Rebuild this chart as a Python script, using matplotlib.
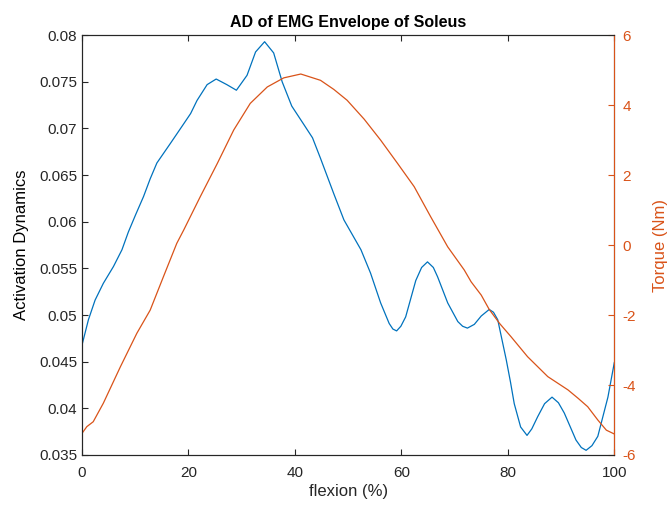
import matplotlib
matplotlib.use('Agg')
import matplotlib.pyplot as plt

plt.rcParams['font.family'] = ['Liberation Sans', 'DejaVu Sans']
plt.rcParams['axes.unicode_minus'] = False

# blue: activation dynamics (left axis)
ad_x = [0, 1.2, 2.45, 4.0, 5.9, 7.5, 8.7, 10.1, 11.55, 12.8, 14.06, 16.6, 19.1, 20.4,
        21.6, 23.5, 25.2, 27.2, 29.0, 31.0, 32.6, 34.3, 36.0, 37.6, 39.4, 41.7, 43.3,
        44.8, 47.3, 49.2, 50.8, 52.4, 54.2, 56.1, 57.7, 58.4, 59.1, 59.9, 60.8, 62.7,
        63.8, 64.9, 66.0, 66.8, 68.7, 70.6, 71.5, 72.4, 73.7, 75.0, 76.5, 77.3, 78.1,
        79.7, 80.5, 81.2, 82.4, 83.6, 84.5, 85.6, 86.9, 88.3, 89.5, 90.6, 92.8, 93.8,
        94.7, 95.8, 96.9, 98.8, 100]
ad_y = [0.0468, 0.0495, 0.0516, 0.0534, 0.0552, 0.0570, 0.0589, 0.0608, 0.0627, 0.0646,
        0.0663, 0.0684, 0.0705, 0.0716, 0.0730, 0.0747, 0.0753, 0.0747, 0.0741, 0.0757,
        0.0782, 0.0793, 0.0781, 0.0750, 0.0724, 0.0704, 0.0690, 0.0668, 0.0630, 0.0602,
        0.0586, 0.0570, 0.0545, 0.0513, 0.0491, 0.0485, 0.0483, 0.0488, 0.0498, 0.0537,
        0.0551, 0.0557, 0.0551, 0.0541, 0.0513, 0.0493, 0.0488, 0.0486, 0.0490, 0.0499,
        0.0506, 0.0503, 0.0495, 0.0452, 0.0428, 0.0405, 0.0380, 0.0371, 0.0378, 0.0391,
        0.0405, 0.0412, 0.0406, 0.0395, 0.0366, 0.0358, 0.0355, 0.0360, 0.0370, 0.0412,
        0.0449]

# orange: torque (right axis)
tq_x = [0, 0.9, 2.1, 4.0, 5.6, 7.2, 10.3, 12.8, 15.3, 17.8, 19.1, 22.2, 25.4, 28.5,
        31.6, 34.8, 37.9, 41.1, 44.8, 47.3, 49.8, 53.0, 56.1, 59.3, 62.4, 65.5, 68.7,
        71.8, 73.1, 75.0, 76.5, 78.5, 80.6, 83.7, 87.5, 91.3, 93.2, 95.0, 96.9, 98.5, 100]
tq_y = [-5.38, -5.19, -5.05, -4.52, -4.0, -3.48, -2.52, -1.86, -0.9, 0.05, 0.43, 1.38,
        2.33, 3.29, 4.05, 4.52, 4.78, 4.89, 4.71, 4.45, 4.14, 3.6, 3.0, 2.33, 1.67, 0.81,
        -0.05, -0.71, -1.05, -1.43, -1.84, -2.25, -2.62, -3.19, -3.76, -4.14, -4.38,
        -4.62, -5.0, -5.29, -5.4]

blue = (0, 0.447, 0.741)
orange = (0.85, 0.325, 0.098)
dark = (0.15, 0.15, 0.15)

fig = plt.figure(figsize=(6.67, 5.07), dpi=100)
ax = fig.add_axes([0.123, 0.1026, 0.798, 0.828])
ax.plot(ad_x, ad_y, color=blue, lw=0.9)
ax.set_xlim(0, 100)
ax.set_ylim(0.035, 0.08)
ax.set_yticks([0.035, 0.04, 0.045, 0.05, 0.055, 0.06, 0.065, 0.07, 0.075, 0.08])
ax.set_yticklabels(['0.035', '0.04', '0.045', '0.05', '0.055', '0.06', '0.065',
                    '0.07', '0.075', '0.08'])
ax.set_xticks([0, 20, 40, 60, 80, 100])
ax.set_xlabel('flexion (%)', fontsize=12, color=dark, labelpad=3)
ax.set_ylabel('Activation Dynamics', fontsize=12, color='black', labelpad=7)
ax.set_title('AD of EMG Envelope of Soleus', fontsize=11.5, fontweight='bold')
ax.tick_params(direction='in', labelsize=11, colors=dark, top=True, length=4)
ax.tick_params(axis='x', pad=8)

ax2 = ax.twinx()
ax2.plot(tq_x, tq_y, color=orange, lw=0.9)
ax2.set_ylim(-6, 6)
ax2.set_yticks([-6, -4, -2, 0, 2, 4, 6])
ax2.set_ylabel('Torque (Nm)', fontsize=12, color=orange, labelpad=12)
ax2.tick_params(direction='in', labelsize=11, colors=orange, length=4, pad=6)
ax2.spines['right'].set_color(orange)
for s in ['left', 'top', 'bottom']:
    ax2.spines[s].set_color(dark)
for s in ['left', 'top', 'bottom']:
    ax.spines[s].set_color(dark)
    ax.spines[s].set_linewidth(0.8)

fig.savefig('out.png', dpi=100)
